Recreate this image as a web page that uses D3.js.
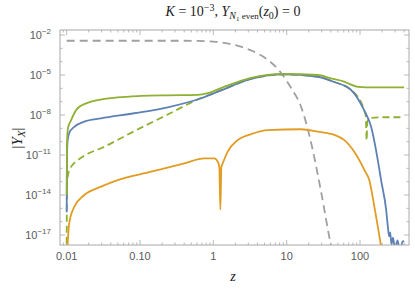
<!DOCTYPE html>
<html>
<head>
<meta charset="utf-8">
<script src="https://cdn.jsdelivr.net/npm/d3@7"></script>
<style>
  body { margin: 0; background: #fff; }
  svg { display: block; }
  .tick-label { font-family: "Liberation Sans", Arial, sans-serif; font-size: 11px; fill: #5a5a5a; }
  .math { font-family: "Liberation Serif", "DejaVu Serif", serif; fill: #222; }
</style>
</head>
<body>
<svg width="415" height="291"></svg>
<script>
// values: z and |Y_X|
var blueZ = [0.01, 0.0101, 0.0103, 0.01084, 0.0127, 0.0174, 0.0294, 0.0828, 0.239, 0.68, 1.15, 3.27, 9.2, 26.6, 44.3, 68.2, 75.6, 113.7, 142, 175, 194, 227, 240, 249, 258, 268, 282, 300, 325, 352, 380, 400];
var blueY = [5.0e-16, 1e-11, 1.26e-10, 4.5e-10, 1.3e-9, 3.2e-9, 5.6e-9, 1.35e-8, 3.8e-8, 1.8e-7, 5.6e-7, 5.1e-6, 1.1e-5, 7.4e-6, 3.0e-6, 1.15e-6, 7.5e-7, 2.3e-8, 1.26e-9, 4e-12, 1.26e-13, 7.9e-16, 4e-17, 7.9e-18, 1.6e-17, 2e-18, 6.3e-18, 7.9e-19, 4e-18, 5e-19, 3.2e-18, 3.5e-18];

var greenZ = [0.01, 0.0101, 0.0104, 0.0115, 0.0141, 0.0215, 0.0496, 0.103, 0.239, 0.612, 0.84, 1.4, 3.27, 9.2, 26.6, 40.3, 60.7, 68.2, 93.4, 121, 200, 400];
var greenY = [1e-14, 5e-11, 1e-9, 4.2e-9, 3.2e-8, 1e-7, 2.1e-7, 2.7e-7, 3.0e-7, 3.2e-7, 4.3e-7, 1.3e-6, 6.2e-6, 1.2e-5, 1e-5, 5.6e-6, 3.2e-6, 2.4e-6, 1.3e-6, 1.2e-6, 1.2e-6, 1.2e-6];

var greenDashZ = [0.01, 0.0101, 0.0106, 0.0118, 0.0141, 0.0185, 0.0294, 0.0828, 0.239, 0.68, 1.15, 3.27, 9.2, 26.6, 44.3, 68.2, 75.6, 113.7, 120, 123, 126, 134, 194, 400];
var greenDashY = [3.2e-19, 5.6e-14, 5e-13, 1.6e-12, 4e-12, 1.1e-11, 3.2e-11, 6e-10, 1.1e-8, 1.86e-7, 5.6e-7, 5.1e-6, 1.1e-5, 7.4e-6, 3.0e-6, 1.15e-6, 7.5e-7, 2.3e-8, 7.9e-9, 1.26e-10, 3.2e-9, 5.6e-9, 6.8e-9, 6.8e-9];

var orangeZ = [0.01, 0.01084, 0.0127, 0.0174, 0.0294, 0.0496, 0.142, 0.402, 0.754, 1.03, 1.148, 1.207, 1.246, 1.286, 1.343, 1.57, 2.15, 3.27, 5.52, 15.7, 26.6, 44.7, 61.2, 83.9, 115, 134, 157, 194, 220];
var orangeY = [1e-19, 7.9e-17, 1.3e-15, 1e-14, 4.2e-14, 1.3e-13, 5.6e-13, 2.4e-12, 5.6e-12, 5.6e-12, 3.2e-12, 1.26e-12, 7.9e-16, 1.26e-12, 2.4e-12, 1.8e-11, 1.3e-10, 3.7e-10, 7.4e-10, 8.5e-10, 5.6e-10, 3.2e-10, 1.3e-10, 1.66e-11, 7.4e-13, 1.3e-13, 1.3e-15, 1.26e-18, 1e-20];

var grayZ = [0.01, 0.36, 1.0, 1.4, 2.17, 3.59, 5.57, 8.4, 11.5, 15.7, 22.7, 29.5, 40.3, 45];
var grayY = [3.7e-3, 3.7e-3, 3.2e-3, 2.6e-3, 1.5e-3, 5.6e-4, 1.33e-4, 1.4e-5, 1.05e-6, 4.2e-8, 2.3e-11, 1.66e-14, 1.5e-18, 1e-19];

var xTickVals = [0.01, 0.1, 1, 10, 100];
var xTickText = ["0.01", "0.10", "1", "10", "100"];
var yTickExp = [-2, -5, -8, -11, -14, -17];

var svg = d3.select("svg");
var frame = { left: 60, right: 409, top: 30, bottom: 245 };

var x = d3.scaleLog().domain([Math.pow(10, -2.091), Math.pow(10, 2.668)]).range([frame.left, frame.right]);
var y = d3.scaleLog().domain([Math.pow(10, -17.75), Math.pow(10, -1.625)]).range([frame.bottom, frame.top]);

svg.append("defs").append("clipPath").attr("id", "clip")
    .append("rect").attr("x", frame.left).attr("y", frame.top)
    .attr("width", frame.right - frame.left).attr("height", frame.bottom - frame.top);

// ticks on all four sides
var frameColor = "#a8a8a8";
var xMinor = [];
for (var e = -3; e <= 2; e++) {
    for (var k = 1; k <= 9; k++) {
        var v = k * Math.pow(10, e);
        if (v >= x.domain()[0] && v <= x.domain()[1]) xMinor.push({ v: v, major: k == 1 });
    }
}
var yMinor = [];
for (var e2 = -17; e2 <= -2; e2++) {
    yMinor.push({ v: Math.pow(10, e2), major: yTickExp.indexOf(e2) >= 0 });
}

var ticks = svg.append("g").attr("stroke", frameColor).attr("stroke-width", 0.8);
xMinor.forEach(function (d) {
    var len = d.major ? 5 : 2.5;
    var px = x(d.v);
    ticks.append("line").attr("x1", px).attr("x2", px).attr("y1", frame.bottom).attr("y2", frame.bottom - len);
    ticks.append("line").attr("x1", px).attr("x2", px).attr("y1", frame.top).attr("y2", frame.top + len);
});
yMinor.forEach(function (d) {
    var len = d.major ? 5 : 2.5;
    var py = y(d.v);
    ticks.append("line").attr("x1", frame.left).attr("x2", frame.left + len).attr("y1", py).attr("y2", py);
    ticks.append("line").attr("x1", frame.right).attr("x2", frame.right - len).attr("y1", py).attr("y2", py);
});

// curves
var line = d3.line()
    .x(function (d) { return x(d[0]); })
    .y(function (d) { return y(d[1]); })
    .curve(d3.curveMonotoneX);

function pairs(zs, ys) {
    return zs.map(function (z, i) { return [z, ys[i]]; });
}

var plot = svg.append("g").attr("clip-path", "url(#clip)").attr("fill", "none")
    .attr("stroke-width", 1.8).attr("stroke-linejoin", "round");

plot.append("path").datum(pairs(greenDashZ, greenDashY))
    .attr("stroke", "#8fb032").attr("stroke-dasharray", "7,4").attr("d", line);
plot.append("path").datum(pairs(grayZ, grayY))
    .attr("stroke", "#a0a0a0").attr("stroke-dasharray", "8,5").attr("d", line);
plot.append("path").datum(pairs(blueZ, blueY))
    .attr("stroke", "#5e81b5").attr("d", line);
plot.append("path").datum(pairs(orangeZ, orangeY))
    .attr("stroke", "#e19c24").attr("d", line);
plot.append("path").datum(pairs(greenZ, greenY))
    .attr("stroke", "#8fb032").attr("d", line);

// frame
svg.append("rect").attr("x", frame.left).attr("y", frame.top)
    .attr("width", frame.right - frame.left).attr("height", frame.bottom - frame.top)
    .attr("fill", "none").attr("stroke", frameColor).attr("stroke-width", 1);

// tick labels
xTickVals.forEach(function (v, i) {
    svg.append("text").attr("class", "tick-label")
        .attr("x", x(v)).attr("y", frame.bottom + 15)
        .attr("text-anchor", "middle").text(xTickText[i]);
});
yTickExp.forEach(function (e) {
    var t = svg.append("text").attr("class", "tick-label")
        .attr("x", frame.left - 9).attr("y", y(Math.pow(10, e)) + 4)
        .attr("text-anchor", "end");
    t.append("tspan").text("10");
    t.append("tspan").attr("dy", -5).style("font-size", "8px").text("\u2212" + (-e));
});

// title
var title = svg.append("text").attr("class", "math").attr("x", 233).attr("y", 16)
    .attr("text-anchor", "middle").style("font-size", "14px");
title.append("tspan").style("font-style", "italic").text("K");
title.append("tspan").text(" = 10");
title.append("tspan").attr("dy", -5).style("font-size", "10px").text("\u22123");
title.append("tspan").attr("dy", 5).text(", ");
title.append("tspan").style("font-style", "italic").text("Y");
title.append("tspan").attr("dy", 3).style("font-size", "10px").style("font-style", "italic").text("N");
title.append("tspan").attr("dy", 1.5).style("font-size", "7px").text("1");
title.append("tspan").attr("dy", -1.5).style("font-size", "9px").text(" even");
title.append("tspan").attr("dy", -3).text("(");
title.append("tspan").style("font-style", "italic").text("z");
title.append("tspan").attr("dy", 3).style("font-size", "10px").text("0");
title.append("tspan").attr("dy", -3).text(") = 0");

// axis labels
svg.append("text").attr("class", "math").attr("x", 233).attr("y", 281)
    .attr("text-anchor", "middle").style("font-size", "14px").style("font-style", "italic").text("z");

var yl = svg.append("text").attr("class", "math")
    .attr("transform", "translate(22,138) rotate(-90)")
    .attr("text-anchor", "middle").style("font-size", "15px");
yl.append("tspan").text("|");
yl.append("tspan").style("font-style", "italic").text("Y");
yl.append("tspan").attr("dy", 3).style("font-size", "11px").style("font-style", "italic").text("X");
yl.append("tspan").attr("dy", -3).text("|");
</script>
</body>
</html>
